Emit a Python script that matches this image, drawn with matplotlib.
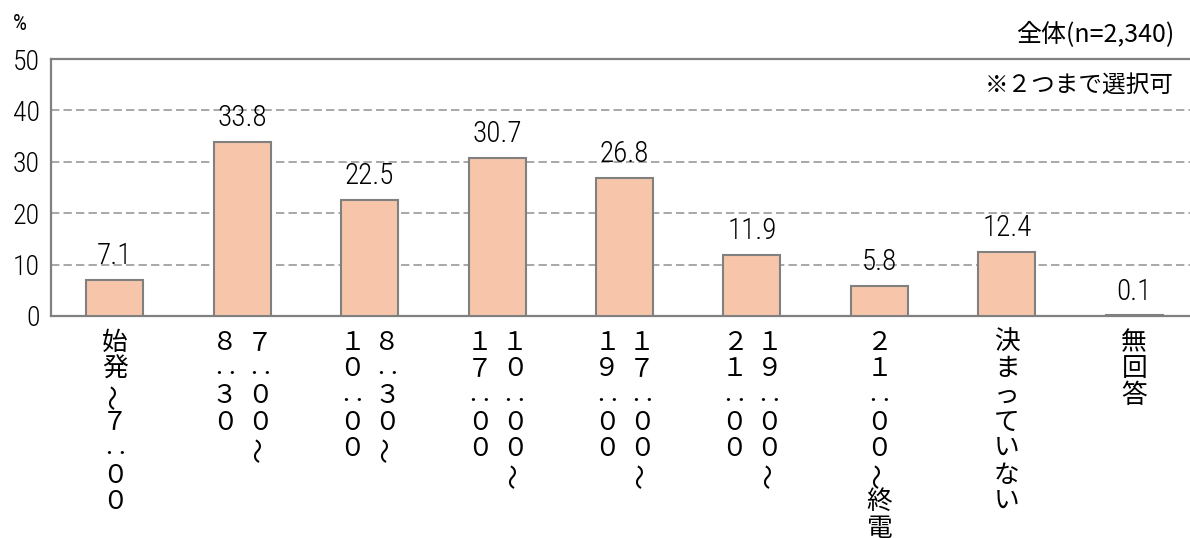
import matplotlib
matplotlib.use("Agg")
import matplotlib.pyplot as plt
from matplotlib import transforms
from matplotlib import font_manager

plt.rcParams['font.family'] = ['Noto Sans CJK JP', 'DejaVu Sans']

# データ（全体 n=2,340、2つまで選択可）
labels = [
    ["始発～７：００"],
    ["７：００～", "８：３０"],
    ["８：３０～", "１０：００"],
    ["１０：００～", "１７：００"],
    ["１７：００～", "１９：００"],
    ["１９：００～", "２１：００"],
    ["２１：００～終電"],
    ["決まっていない"],
    ["無回答"],
]
values = [7.1, 33.8, 22.5, 30.7, 26.8, 11.9, 5.8, 12.4, 0.1]
yticks = [0, 10, 20, 30, 40, 50]

# 細めの数字フォントがあれば使う
installed = {f.name for f in font_manager.fontManager.ttflist}
narrow = [n for n in ['Roboto Condensed', 'Open Sans Condensed', 'Liberation Sans Narrow',
                      'DejaVu Sans Condensed'] if n in installed]
num_font = narrow[:1] + ['Noto Sans CJK JP']
cond = bool(narrow)

bar_color = '#f6c5aa'
edge_gray = '#808080'

fig = plt.figure(figsize=(11.9, 5.38), dpi=100)
ax = fig.add_axes([51 / 1190, 222 / 538, 1147 / 1190, 257 / 538])

x = list(range(len(values)))
ax.bar(x, values, width=0.447, color=bar_color, edgecolor=edge_gray,
       linewidth=1.5, zorder=3)

ax.set_xlim(-0.5, len(values) - 0.5)
ax.set_ylim(0, 50)
ax.set_yticks(yticks)
ax.set_yticklabels([str(t) for t in yticks], family=num_font,
                   fontsize=20 if cond else 16.5, fontweight='light')
ax.tick_params(axis='y', length=0, pad=8)
ax.set_xticks([])
for g in yticks[1:-1]:
    ax.axhline(g, color='#9a9a9a', linestyle=(0, (5, 2.5)), linewidth=1.2, zorder=1)
for s in ax.spines.values():
    s.set_color(edge_gray)
    s.set_linewidth(1.6)

# 数値ラベル
for xi, v in zip(x, values):
    ax.annotate(f"{v:.1f}", (xi, v), xytext=(0, 11.5), textcoords='offset points',
                ha='center', va='baseline', family=num_font,
                fontsize=21 if cond else 18, fontweight='light')

# 縦書きラベル（右の列から左へ）
trans = transforms.blended_transform_factory(ax.transData, ax.transAxes)
pitch = 19.1
col_gap = 35 / 1.389
for xi, cols in zip(x, labels):
    n = len(cols)
    for ci, col in enumerate(cols):
        dx = ((n - 1) / 2 - ci) * col_gap
        for k, ch in enumerate(col):
            dy = -(19.4 + k * pitch)
            rot = 0
            if ch == "：":
                ch, dy = "‥", dy - 4.3
            elif ch == "～":
                rot = 90
            t = transforms.offset_copy(trans, fig=fig, x=dx, y=dy, units='points')
            ax.text(xi, 0, ch, transform=t, ha='center', va='center',
                    fontsize=18.5, rotation=rot)

fig.text(13 / 1190, 1 - 25 / 538, "%", fontsize=16, ha='left', va='center', family=num_font)
fig.text(1174 / 1190, 1 - 35 / 538, "全体(n=2,340)", fontsize=18, ha='right', va='center')
fig.text(1174 / 1190, 1 - 85 / 538, "※２つまで選択可", fontsize=17, ha='right', va='center')

fig.savefig('out.png', dpi=100)
